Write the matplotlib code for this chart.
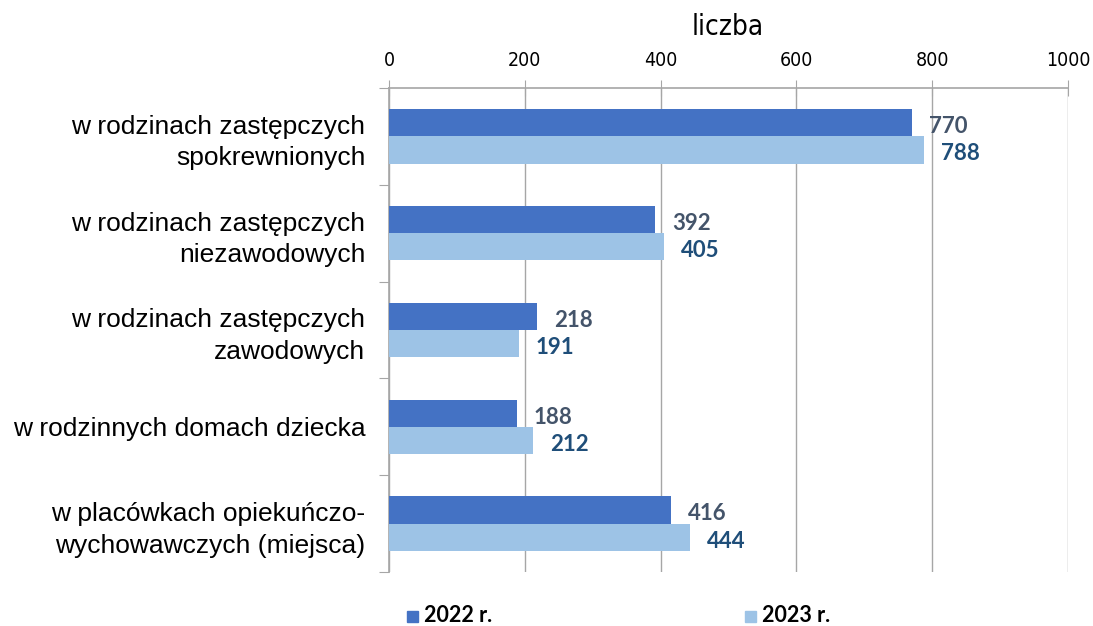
import matplotlib
matplotlib.use("Agg")
import matplotlib.pyplot as plt
from matplotlib.patches import Rectangle
from matplotlib.font_manager import FontProperties
import numpy as np

categories = [
    "w rodzinach zastępczych\nspokrewnionych",
    "w rodzinach zastępczych\nniezawodowych",
    "w rodzinach zastępczych\nzawodowych",
    "w rodzinnych domach dziecka",
    "w placówkach opiekuńczo-\nwychowawczych (miejsca)",
]
values_2022 = [770, 392, 218, 188, 416]
values_2023 = [788, 405, 191, 212, 444]
series_labels = ["2022 r.", "2023 r."]
x_ticks = [0, 200, 400, 600, 800, 1000]

c2022 = "#4472C4"
c2023 = "#9DC3E6"
lab2022 = "#44546A"
lab2023 = "#1F4E79"
grid_c = "#A6A6A6"

fig = plt.figure(figsize=(10.93, 6.26), dpi=100)
ax = fig.add_axes([389/1093, 1-572/626, (1068-389)/1093, (572-88)/626])

n = len(categories)
pos = np.arange(n)[::-1].astype(float)  # top category at highest y
h = 0.28
ax.barh(pos + h/2, values_2022, height=h, color=c2022, zorder=3)
ax.barh(pos - h/2, values_2023, height=h, color=c2023, zorder=3)

bold_font = ["Lato", "DejaVu Sans"]
for p, v in zip(pos, values_2022):
    ax.text(v + 25, p + h/2 - 0.04, str(v), va="center", ha="left", fontsize=16,
            fontweight="bold", color=lab2022, family=bold_font, zorder=4)
for p, v in zip(pos, values_2023):
    ax.text(v + 25, p - h/2 - 0.04, str(v), va="center", ha="left", fontsize=16,
            fontweight="bold", color=lab2023, family=bold_font, zorder=4)

ax.set_xlim(0, 1000)
ax.set_ylim(-0.5, n - 0.5)
ax.xaxis.tick_top()
ax.set_xticks(x_ticks)
tick_fp = FontProperties(family="DejaVu Sans", stretch="condensed", size=14)
ax.set_xticklabels([str(t) for t in x_ticks], fontproperties=tick_fp)
ax.tick_params(axis="x", direction="inout", length=12, color=grid_c, pad=7)
ax.grid(axis="x", color=grid_c, linewidth=1, zorder=0)

# y axis: boundary ticks
ax.set_yticks(np.arange(-0.5, n, 1.0))
ax.set_yticklabels([])
ax.tick_params(axis="y", direction="out", length=7, color=grid_c)
ax.set_yticks(pos, minor=True)
ax.set_yticklabels(categories, minor=True,
                   fontdict={"family": ["Liberation Sans", "DejaVu Sans"], "size": 19})
ax.tick_params(axis="y", which="minor", length=0, pad=17)
for lbl in ax.get_yticklabels(minor=True):
    lbl.set_horizontalalignment("right")
    lbl.set_linespacing(1.4)

for s in ["right", "bottom"]:
    ax.spines[s].set_visible(False)
for s in ["left", "top"]:
    ax.spines[s].set_color(grid_c)
    ax.spines[s].set_linewidth(1.2)

title_fp = FontProperties(family="DejaVu Sans", stretch="condensed", size=20)
fig.text(728/1093, 1-27/626, "liczba", ha="center", va="center", fontproperties=title_fp)

# legend
for x0, col, txt in [(407, c2022, series_labels[0]), (745, c2023, series_labels[1])]:
    fig.patches.append(Rectangle((x0/1093, 1-622/626), 11/1093, 11/626,
                                 transform=fig.transFigure, color=col, figure=fig))
    fig.text((x0+17)/1093, 1-616/626, txt, ha="left", va="center", fontsize=15.5,
             fontweight="bold", family=bold_font, color="black")

fig.savefig("out.png", dpi=100)
